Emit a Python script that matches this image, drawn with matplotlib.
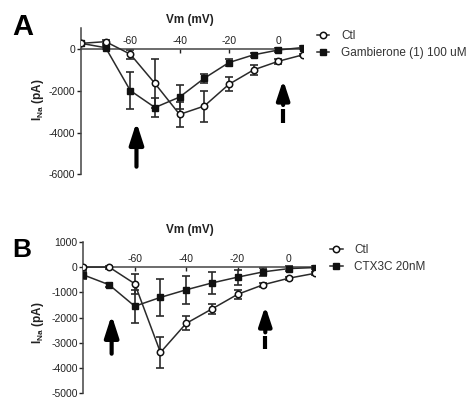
import numpy as np
import matplotlib
matplotlib.use("Agg")
import matplotlib.pyplot as plt

plt.rcParams['font.family'] = ['Liberation Sans', 'DejaVu Sans']
plt.rcParams['mathtext.fontset'] = 'custom'
plt.rcParams['mathtext.rm'] = 'Liberation Sans'
plt.rcParams['mathtext.bf'] = 'Liberation Sans:bold'
plt.rcParams['axes.unicode_minus'] = False

# === dados ===
vm = [-80, -70, -60, -50, -40, -30, -20, -10, 0, 10]

# painel A
ctl_A = [270, 350, -250, -1650, -3130, -2730, -1690, -1000, -590, -280]
ctl_A_err = [80, 100, 220, 1150, 600, 740, 330, 230, 130, 60]
gamb_A = [270, 60, -1990, -2800, -2300, -1400, -650, -280, -50, 70]
gamb_A_err = [80, 80, 890, 450, 575, 220, 150, 100, 80, 50]

# painel B
ctl_B = [0, 0, -660, -3380, -2230, -1660, -1080, -700, -440, -250]
ctl_B_err = [60, 60, 400, 600, 280, 200, 180, 80, 60, 50]
ctx_B = [-310, -700, -1550, -1200, -900, -630, -400, -190, -60, -20]
ctx_B_err = [150, 80, 650, 720, 550, 420, 300, 150, 100, 60]

labels_A = ['Ctl', 'Gambierone (1) 100 uM']
labels_B = ['Ctl', 'CTX3C 20nM']

# setas: x, ponta, base
seta_A = (-57.5, -3500, -5630)
seta_tr_A = (2, -1480, -2680, -2880, -3555)
seta_B = (-69, -1900, -3430)
seta_tr_B = (-9.2, -1540, -2585, -2740, -3240)

cor = '#2a2a2a'


def painel(ax, ctl, ctl_err, trat, trat_err, ylim, yticks, labels, leg_pos):
    ax.errorbar(vm, trat, yerr=trat_err, fmt='none', ecolor=cor, elinewidth=1.2,
                capsize=2.6, capthick=1.2, zorder=2)
    ax.errorbar(vm, ctl, yerr=ctl_err, fmt='none', ecolor=cor, elinewidth=1.2,
                capsize=2.6, capthick=1.2, zorder=2)
    l1, = ax.plot(vm, ctl, '-o', color=cor, lw=1.1, ms=4.6, mfc='white',
                  mec='#111111', mew=1.1, zorder=4)
    l2, = ax.plot(vm, trat, '-s', color=cor, lw=1.1, ms=4.4, mfc='#111111',
                  mec='#111111', zorder=3)

    ax.set_xlim(-80, 10)
    ax.set_ylim(*ylim)
    ax.set_yticks(yticks)
    ax.set_xticks([-60, -40, -20, 0])

    ax.spines['right'].set_visible(False)
    ax.spines['bottom'].set_visible(False)
    ax.spines['top'].set_position(('data', 0))
    ax.spines['top'].set_color('#444444')
    ax.spines['left'].set_color('#444444')
    ax.spines['top'].set_linewidth(1.1)
    ax.spines['left'].set_linewidth(1.1)
    ax.xaxis.set_ticks_position('top')
    ax.tick_params(axis='x', direction='in', length=3, pad=2, labelsize=7.5,
                   colors='#222222', width=1)
    ax.tick_params(axis='y', direction='out', length=3, pad=1, labelsize=7.5,
                   colors='#222222', width=1)
    ax.patch.set_visible(False)

    ax.legend([l1, l2], labels, loc='upper left', bbox_to_anchor=leg_pos,
              bbox_transform=fig.transFigure, frameon=False, fontsize=8.5,
              handlelength=1.1, handletextpad=1.0, labelspacing=0.45,
              borderpad=0, borderaxespad=0, labelcolor='#333333')


def seta(ax, s):
    x, ponta, base = s
    ax.annotate('', xy=(x, ponta), xytext=(x, base),
                arrowprops=dict(arrowstyle='-|>,head_width=0.42,head_length=1.3',
                                mutation_scale=10, lw=3, color='black',
                                shrinkA=0, shrinkB=0))


def seta_tracejada(ax, s):
    # cabeca + pedaco curto, um intervalo, depois o resto da haste
    x, ponta, fim1, ini2, fim2 = s
    ax.annotate('', xy=(x, ponta), xytext=(x, fim1),
                arrowprops=dict(arrowstyle='-|>,head_width=0.38,head_length=1.15',
                                mutation_scale=10, lw=3, color='black',
                                shrinkA=0, shrinkB=0))
    ax.plot([x, x], [ini2, fim2], color='black', lw=3, solid_capstyle='butt')


fig = plt.figure(figsize=(4.71, 4.01), dpi=100)

axA = fig.add_axes([0.172, 0.565, 0.471, 0.365])
painel(axA, ctl_A, ctl_A_err, gamb_A, gamb_A_err, (-6000, 1000),
       [0, -2000, -4000, -6000], labels_A, (0.672, 0.925))
seta(axA, seta_A)
seta_tracejada(axA, seta_tr_A)

axB = fig.add_axes([0.177, 0.019, 0.491, 0.378])
painel(axB, ctl_B, ctl_B_err, ctx_B, ctx_B_err, (-5000, 1000),
       [1000, 0, -1000, -2000, -3000, -4000, -5000], labels_B, (0.700, 0.392))
seta(axB, seta_B)
seta_tracejada(axB, seta_tr_B)

# textos
fig.text(0.403, 0.950, 'Vm (mV)', ha='center', va='center', fontsize=8.5,
         fontweight='bold', color='#222222')
fig.text(0.403, 0.426, 'Vm (mV)', ha='center', va='center', fontsize=8.5,
         fontweight='bold', color='#222222')
fig.text(0.081, 0.751, r'I$_{\mathbf{Na}}$ (pA)', ha='center', va='center',
         rotation=90, fontsize=8.5, fontweight='bold', color='#222222')
fig.text(0.081, 0.196, r'I$_{\mathbf{Na}}$ (pA)', ha='center', va='center',
         rotation=90, fontsize=8.5, fontweight='bold', color='#222222')
fig.text(0.026, 0.913, 'A', fontsize=21, fontweight='bold')
fig.text(0.027, 0.358, 'B', fontsize=19, fontweight='bold')

fig.savefig('out.png', dpi=100)
